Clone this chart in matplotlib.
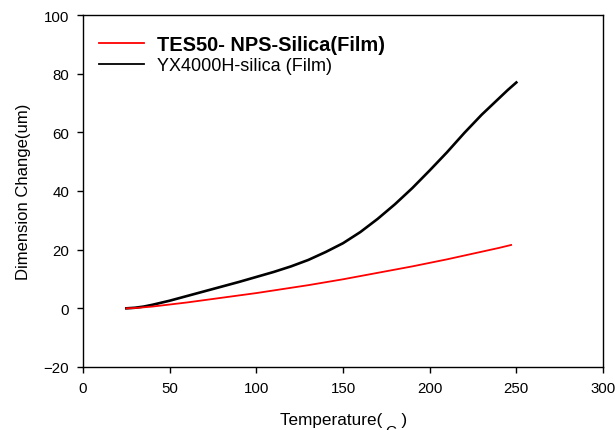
import matplotlib
matplotlib.use("Agg")
import matplotlib.pyplot as plt

plt.rcParams['font.family'] = ['Liberation Sans', 'DejaVu Sans']

temp_black = [25, 30, 35, 40, 50, 60, 70, 80, 90, 100, 110, 120, 130, 140, 150,
              160, 170, 180, 190, 200, 210, 220, 230, 240, 245, 250]
dim_black = [0, 0.2, 0.6, 1.2, 2.6, 4.2, 5.8, 7.4, 9.0, 10.7, 12.4, 14.3, 16.5, 19.2, 22.2,
             26.0, 30.5, 35.5, 41.0, 47.0, 53.2, 59.8, 66.0, 71.6, 74.4, 77.0]
temp_red = [25, 30, 40, 50, 60, 70, 80, 90, 100, 110, 120, 130, 140, 150,
            160, 170, 180, 190, 200, 210, 220, 230, 240, 247]
dim_red = [0, 0.1, 0.6, 1.3, 2.0, 2.8, 3.6, 4.4, 5.2, 6.1, 7.0, 7.9, 8.9, 9.9,
           11.0, 12.1, 13.2, 14.3, 15.5, 16.7, 18.0, 19.3, 20.6, 21.6]

label_red = "TES50- NPS-Silica(Film)"
label_black = "YX4000H-silica (Film)"
xticks = [0, 50, 100, 150, 200, 250, 300]
yticks = [-20, 0, 20, 40, 60, 80, 100]

fig = plt.figure(figsize=(6.15, 4.31), dpi=100)
ax = fig.add_axes([83/615, 1 - 368/431, 520/615, 352/431])

ax.plot(temp_black, dim_black, color='black', lw=1.9, label=label_black, zorder=3)
ax.plot(temp_red, dim_red, color='#ff0000', lw=1.3, label=label_red, zorder=4)

ax.set_xlim(0, 300)
ax.set_ylim(-20, 100)
ax.set_xticks(xticks)
ax.set_yticks(yticks)
ax.tick_params(direction='out', length=4, width=1, labelsize=10.8, pad=6,
               top=False, right=False)
for s in ax.spines.values():
    s.set_linewidth(1)

ax.set_ylabel("Dimension Change(um)", fontsize=12, labelpad=9)
fig.text(344/615, 1 - 421/431, "Temperature(    )", fontsize=12.3,
         ha='center', va='center')
fig.text(391/615, 1 - 425/431, "C", fontsize=11, ha='center', va='top')

h, l = ax.get_legend_handles_labels()
leg = ax.legend([h[1], h[0]], [l[1], l[0]], loc='upper left',
                bbox_to_anchor=(0.0, 0.99), frameon=False, fontsize=13,
                handlelength=2.5, handletextpad=0.7, labelspacing=0.2)
leg.get_texts()[0].set_fontweight('bold')
leg.get_texts()[0].set_fontsize(14.4)
for line in leg.get_lines():
    line.set_linewidth(1.3)

fig.savefig("out.png", dpi=100)
